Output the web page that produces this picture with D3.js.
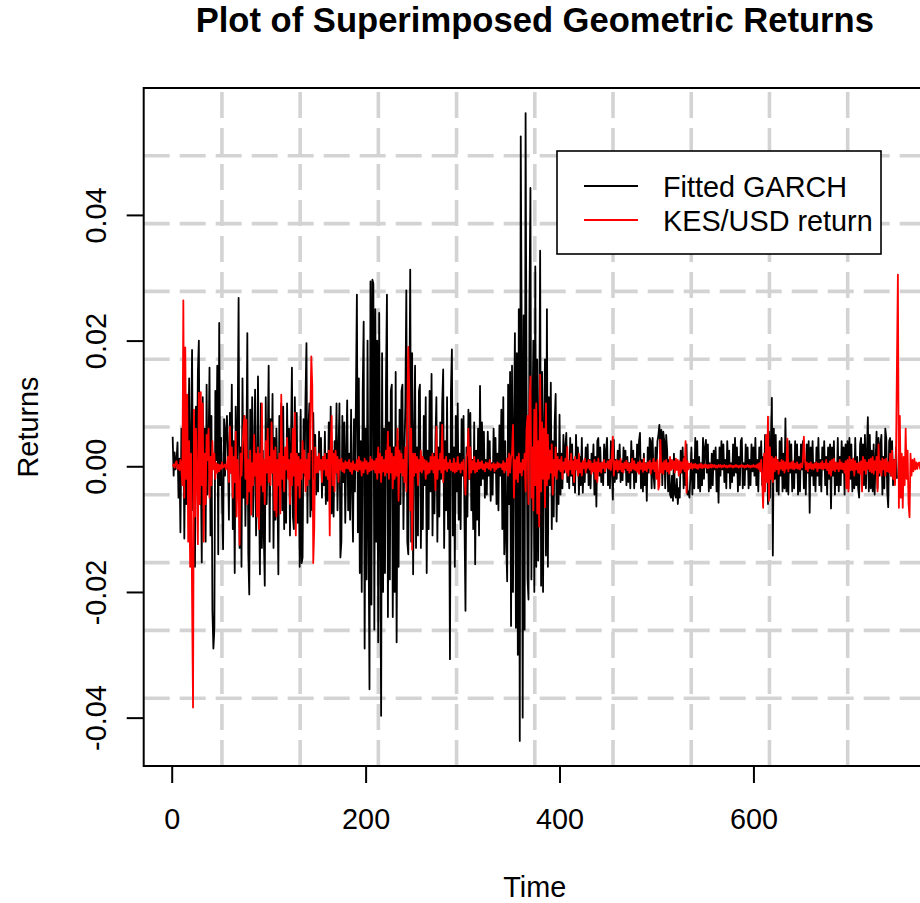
<!DOCTYPE html>
<html>
<head>
<meta charset="utf-8">
<script src="https://cdn.jsdelivr.net/npm/d3@7"></script>
<style>
  html, body { margin: 0; padding: 0; background: #ffffff; overflow: hidden; }
  svg { display: block; }
</style>
</head>
<body>
<svg id="chart" width="920" height="903"></svg>
<script>
// Daily returns, in basis points (1 bp = 0.0001), index 1..n
const garchBp = [
  47, -15, 22, -5, 10, 38, -50, 12, -105, 60,
  -20, 95, -115, 30, -60, 110, 15, 140, -130, 40,
  185, -70, 20, -160, 95, -30, 150, 200, -60, 5,
  -153, 110, -20, 60, -120, 130, -45, 25, 157, -110,
  80, -230, -290, -260, 120, 10, 160, -140, 228, -30,
  45, -60, -132, 75, -15, 60, 80, 20, -85, 85,
  -10, 130, -100, 40, -170, 95, -25, 60, 268, -130,
  30, -160, 140, -50, 80, -95, 10, 212, -140, -204,
  90, -20, 110, -80, 15, 122, -110, -40, 143, -35,
  -172, 100, -130, 25, -110, -190, 110, -60, 30, 160,
  -120, 75, -10, 115, -130, 45, -85, 60, -20, -172,
  80, -35, 100, -70, 95, -100, 20, -90, 100, -15,
  60, -110, 35, 157, -80, -100, 110, -10, 85, -90,
  20, -160, 90, -154, -145, 75, -15, 110, 196, -90,
  60, 100, -80, 25, -70, 85, -20, 50, -45, 10,
  -40, 55, -5, 45, -50, 15, -30, 55, -60, 20,
  -55, 70, -15, 95, -75, 25, -80, 40, -10, 100,
  -70, 20, 100, -145, -120, 80, -25, 70, -90, 15,
  105, -70, 20, -85, 90, -30, -120, 75, -40, 110,
  273, -105, 140, -170, 40, -200, 120, 230, -290, 60,
  -180, 200, -100, -355, 294, -220, 297, 290, -260, 250,
  -120, 200, -280, 244, -90, -397, 180, -200, 60, -170,
  130, 273, -240, 70, -180, 120, 130, -240, 30, -200,
  150, -280, 40, -160, 90, -60, 120, 130, -100, 20,
  100, 280, -120, -140, 60, 313, -120, 180, -172, 40,
  160, -130, 30, -110, 120, 130, -130, 15, -100, 80,
  -30, 110, -170, 25, -100, 120, -40, 147, -110, 20,
  -75, 40, 110, -120, 30, -80, 70, -20, 100, 154,
  -130, 40, -70, 110, -100, 20, -307, 120, 186, -110,
  30, -160, 80, -40, 100, -85, 20, -100, 75, -15,
  80, -90, -230, 30, -80, 90, -20, 85, -70, 10,
  -100, 70, -156, 25, -85, 60, -110, 128, -30, 70,
  -20, 55, -50, 10, -45, 55, -15, 40, -55, 5,
  -45, 60, -10, 45, -60, 20, -70, 65, -15, 90,
  -100, 110, -140, 40, -120, -183, 130, -60, 150, -254,
  160, -200, 60, 212, -257, 180, -300, 250, -437, 525,
  200, -400, 240, -260, 562, 120, -180, -212, 260, 443,
  -180, 60, 200, -200, 318, -160, 170, -150, 40, 343,
  -190, 150, -200, 60, 170, -142, 250, -160, 110, -30,
  133, -100, 40, -80, 70, 115, -88, 20, -60, 82,
  -45, 20, -35, 50, -10, 30, 53, -25, 5, -35,
  45, -15, 35, -30, 10, -42, 50, -5, 30, -45,
  15, -30, 45, -42, 5, -25, 30, -10, 35, -30,
  10, -35, 20, -5, 35, -45, 15, -64, 40, 45,
  -15, 30, -25, 5, -30, 35, -10, 25, 45, -30,
  10, -35, 40, -5, -53, 42, -25, 10, -20, 25,
  -10, 35, -25, 8, -22, 30, -5, 25, -30, 15,
  -25, 5, -35, 40, -10, 25, -35, 12, -25, 35,
  -5, 40, 53, -35, 10, -40, 20, -30, 5, -55,
  30, -10, 45, 40, -35, 45, -15, -35, 30, -5,
  40, 50, 66, 20, 58, -30, 55, 40, -35, 50,
  25, -40, 10, -45, -50, -15, -55, 20, -45, -50,
  -20, -60, -35, -50, 25, -10, 30, -35, 15, -30,
  35, -45, -40, -50, -15, 30, -45, 10, -35, 45,
  -10, 40, -35, 15, -40, 5, -30, 45, -20, 30,
  42, -10, 35, -40, 5, -35, 20, -30, 25, -5,
  30, -40, 10, -58, 30, -15, 40, -5, 35, -25,
  10, -35, 40, -10, 25, -35, 5, -25, 35, -15,
  45, -10, 30, -40, 15, -30, 40, 45, -35, 5,
  -30, 35, -5, 30, -35, 10, -30, 35, -8, 30,
  -15, 45, -30, 10, -40, 30, -5, 40, -30, 15,
  -40, 50, -15, 45, -60, 55, -50, 40, 109, -142,
  60, -20, 50, -40, 10, -45, 40, -15, 45, -40,
  20, -35, 76, -40, 10, -45, 40, -10, 35, -40,
  5, -35, 40, -10, 35, -45, 15, -40, 35, -5,
  40, -35, 10, -45, 35, -10, 40, -74, 30, -15,
  40, -30, 5, -40, 30, -15, 45, -30, 10, -40,
  30, -5, 40, -30, 15, -45, 30, -20, 35, -67,
  30, -15, 40, -45, 5, -30, 45, -40, 15, -30,
  40, -10, 30, -45, 35, -5, 40, -35, 45, -20,
  35, -40, 10, -35, 45, -30, 15, -35, -50, 35,
  45, -15, 35, -30, 50, -35, 20, 78, -40, 50,
  -35, 25, -40, 35, -45, 10, 55, -35, 45, -15,
  35, 50, -45, 15, -35, 60, 45, -40, -65, 40,
  45, -15, 40, -30, 10, -25, 30, -20
];

const kesUsdBp = [
  0, 3, -2, 5, 8, -4, 2, -6, 10, -5,
  -30, 264, -50, 189, -20, 114, -120, 40, -160, 20,
  -207, -384, 90, -80, 60, -20, -124, 117, -60, 118,
  -30, 100, -120, 20, -60, 50, 10, 60, -50, 15,
  -30, 40, -5, 20, -20, 5, -10, 3, -8, 2,
  -4, 6, -2, 0, 3, -5, 2, 15, -25, 63,
  -10, 30, -50, 15, -25, 55, -80, 10, -30, -125,
  20, -15, 30, 60, 80, -20, 74, -60, 10, -40,
  25, -77, 5, -30, 50, -15, 20, -80, 30, -100,
  20, -30, 100, -40, 10, -60, 40, -10, 60, -25,
  15, -30, 70, -10, 25, -70, 30, -80, 10, -30,
  20, -75, 114, -20, 15, -40, 30, -5, 45, -20,
  10, -60, 20, -30, 60, -15, 85, -110, 20, -30,
  15, -50, 10, -20, 40, -10, 25, -40, 10, -30,
  20, -20, 80, 175, 127, -154, -100, 30, -10, 15,
  -10, 20, -5, 10, -25, 15, -5, 20, -15, 10,
  -20, 25, -110, 30, 80, -30, 20, -40, 25, -10,
  15, -25, 10, -5, 12, -8, 5, -10, 8, -3,
  6, -4, 10, -8, 5, -12, 8, -5, 3, -6,
  10, -8, 15, -5, 8, -15, 6, -10, 12, -4,
  8, -12, 5, -8, 15, -6, 10, -5, 8, -10,
  12, -20, 30, -10, 20, -25, 15, -8, 10, -15,
  25, -10, 55, -20, 30, -10, 20, -35, 15, -20,
  30, -15, 60, -55, 25, -10, 20, -15, 10, -25,
  30, -40, 90, 190, 120, -70, 60, -133, 20, -15,
  20, -10, 15, -30, 10, -8, 25, -10, 15, -5,
  10, -20, 8, -12, 5, -10, 15, -5, 20, -10,
  15, -38, 63, -20, 10, -5, 20, -10, 66, -25,
  10, -5, 15, -8, 5, -3, 10, -6, 4, -8,
  12, -10, 5, -8, 15, -5, 3, -10, 6, -4,
  10, -15, -45, 15, 20, 60, -20, 30, -10, 8,
  -5, 15, -10, 5, -8, 10, -4, 6, -3, 8,
  -5, 3, -8, 6, -2, 5, -4, 10, -6, 3,
  -2, 5, -8, 3, -4, 6, -2, 4, -1, 3,
  -5, 8, -10, 5, -6, 12, -15, 20, -10, 15,
  20, 66, -50, 10, -20, 15, -25, 20, -10, 5,
  -15, 10, -5, 20, -40, 60, 80, -60, 100, 143,
  -50, 30, -70, 90, -30, 100, -75, 40, -96, 146,
  -40, 70, -20, 60, -65, 100, -30, 50, -20, 25,
  -10, 35, -45, 10, -15, 30, -20, 15, -5, 10,
  -8, 15, -20, 6, -5, 12, -10, 31, -15, 8,
  -5, 20, -12, 8, -25, 15, -5, 10, -15, 20,
  -10, 5, -15, 8, -3, 12, -10, 5, -2, 10,
  -5, 8, -12, 4, -8, 10, -20, 6, -25, 12,
  -8, 5, -10, 6, -3, 10, -8, 4, -2, 8,
  -4, 10, -6, 15, 47, -15, 8, -5, 10, -8,
  8, -5, 12, -8, 4, -10, 6, -3, 9, -6,
  5, -10, 4, -7, 12, -4, 8, -6, 3, -9,
  6, -12, 8, -4, 5, -9, 12, -6, 4, -8,
  6, -3, 9, -12, 5, -4, 12, -8, 6, -20,
  10, -37, -30, 42, -10, 5, -12, 8, -5, 10,
  -8, 5, -12, 15, -6, 10, -4, 8, -10, 12,
  -6, 10, -15, 8, -10, 6, -4, 12, -8, 40,
  -42, 8, -5, 4, -3, 5, -4, 3, -2, 4,
  -3, 2, -4, 3, -2, 4, -3, 2, -2, 3,
  -2, 2, -3, 2, -2, 3, -2, 2, -1, 2,
  -2, 1, -2, 2, -1, 2, -2, 1, -1, 2,
  -1, 1, -2, 1, -1, 2, -1, 1, -2, 1,
  -1, 2, -1, 1, -2, 1, -1, 2, -1, 1,
  -2, 1, -1, 2, -1, 1, -2, 1, -1, 2,
  -1, 1, -2, 3, -4, 5, -8, 10, -20, -66,
  20, -40, 50, -25, 79, -55, 30, -20, 15, -25,
  12, -8, 15, -5, 10, -12, 6, -4, 10, -6,
  8, -10, 6, -4, 44, -8, 5, -3, 6, -4,
  8, -5, 4, -3, 6, -4, 3, -5, 4, -2,
  8, 47, 15, -5, 6, -8, 4, -3, 6, -4,
  3, -5, 4, -2, 6, -8, 4, -3, 5, -4,
  8, -5, 4, -3, 10, -6, 4, -12, 8, -15,
  10, -6, 12, -8, 6, -4, 5, -8, 10, -4,
  6, -5, 4, -10, 8, -35, 10, -40, 15, -6,
  10, -6, 12, -15, 8, -5, 4, -10, 6, -12,
  8, -40, 15, -6, 10, -12, 6, -4, 10, -8,
  12, -10, 15, -12, 8, -6, 15, -40, 35, -10,
  8, -15, 12, -5, 10, -15, 12, -8, 6, -10,
  20, -15, 25, -20, 10, -30, 10, 160, 305, -66,
  80, -50, 20, -66, 15, -30, 60, -20, 25, -60,
  -81, 20, -15, 10, -8, 12, -5, 6, -4, 5,
  6, -4, 5, -3, 4, -2, 3, -2, 2, -1
];

const xTicks = [0, 200, 400, 600];
const yTicks = [-0.04, -0.02, 0, 0.02, 0.04];
const yTickLabels = ["-0.04", "-0.02", "0.00", "0.02", "0.04"];
const seriesNames = ["Fitted GARCH", "KES/USD return"];
const seriesColors = ["#000000", "#FF0000"];
const titleText = "Plot of Superimposed Geometric Returns";
const xLabel = "Time";
const yLabel = "Returns";

const FONT = "'Liberation Sans', Arial, Helvetica, sans-serif";
const toReturn = bp => bp / 10000;
const garch = garchBp.map((v, i) => ({ t: i + 1, r: toReturn(v) }));
const kesUsd = kesUsdBp.map((v, i) => ({ t: i + 1, r: toReturn(v) }));

const svg = d3.select("#chart");
svg.append("rect").attr("width", 920).attr("height", 903).attr("fill", "#ffffff");

// plot region (box) in pixels
const box = { left: 143.7, right: 925.9, top: 88, bottom: 766 };

// ranges padded by 4% on each side, base-graphics style
const n = garch.length;
const xPad = 0.04 * (n - 1);
const x = d3.scaleLinear().domain([1 - xPad, n + xPad]).range([box.left, box.right]);
const [lo, hi] = d3.extent(garch, d => d.r);
const yPad = 0.04 * (hi - lo);
const y = d3.scaleLinear().domain([lo - yPad, hi + yPad]).range([box.bottom, box.top]);

// dashed grid: 10 equal cells across each axis
const [dx0, dx1] = x.domain();
const [dy0, dy1] = y.domain();
const gridX = d3.range(1, 10).map(k => dx0 + k * (dx1 - dx0) / 10);
const gridY = d3.range(1, 10).map(k => dy0 + k * (dy1 - dy0) / 10);
const grid = svg.append("g")
  .attr("stroke", "#D3D3D3").attr("stroke-width", 3.6)
  .attr("stroke-dasharray", "26,10").attr("fill", "none");
grid.selectAll("line.v").data(gridX).join("line").attr("class", "v")
  .attr("x1", d => x(d)).attr("x2", d => x(d))
  .attr("y1", box.bottom).attr("y2", box.top);
grid.selectAll("line.h").data(gridY).join("line").attr("class", "h")
  .attr("x1", box.left).attr("x2", box.right)
  .attr("y1", d => y(d)).attr("y2", d => y(d));

// series, clipped to the plot box
svg.append("clipPath").attr("id", "plotClip")
  .append("rect").attr("x", box.left).attr("y", box.top)
  .attr("width", box.right - box.left).attr("height", box.bottom - box.top);

const line = d3.line().x(d => x(d.t)).y(d => y(d.r));
const plotG = svg.append("g").attr("clip-path", "url(#plotClip)");
[garch, kesUsd].forEach((series, k) => {
  plotG.append("path").datum(series)
    .attr("d", line)
    .attr("fill", "none")
    .attr("stroke", seriesColors[k])
    .attr("stroke-width", 1.8)
    .attr("stroke-linejoin", "round");
});

// axes
const xAxis = svg.append("g").attr("transform", `translate(0,${box.bottom})`)
  .call(d3.axisBottom(x).tickValues(xTicks).tickFormat(d3.format("d")).tickSize(17));
xAxis.select(".domain").remove();
xAxis.selectAll(".tick line").attr("stroke", "#000").attr("stroke-width", 2);
xAxis.selectAll(".tick text")
  .attr("y", 63).attr("dy", null)
  .attr("font-family", FONT).attr("font-size", 28.8).attr("fill", "#000");

const yAxis = svg.append("g").attr("transform", `translate(${box.left},0)`)
  .call(d3.axisLeft(y).tickValues(yTicks).tickFormat((d, i) => yTickLabels[i]).tickSize(17));
yAxis.select(".domain").remove();
yAxis.selectAll(".tick line").attr("stroke", "#000").attr("stroke-width", 2);
yAxis.selectAll(".tick text")
  .attr("x", 0).attr("y", -37.7).attr("dy", null)
  .attr("transform", "rotate(-90)")
  .attr("text-anchor", "middle")
  .attr("font-family", FONT).attr("font-size", 28.8).attr("fill", "#000");

// plot box
svg.append("rect")
  .attr("x", box.left).attr("y", box.top)
  .attr("width", box.right - box.left).attr("height", box.bottom - box.top)
  .attr("fill", "none").attr("stroke", "#000").attr("stroke-width", 2);

// titles
const midX = (box.left + box.right) / 2;
svg.append("text").text(titleText)
  .attr("x", midX).attr("y", 32).attr("text-anchor", "middle")
  .attr("font-family", FONT).attr("font-weight", "bold").attr("font-size", 34.6);
svg.append("text").text(xLabel)
  .attr("x", midX).attr("y", 897).attr("text-anchor", "middle")
  .attr("font-family", FONT).attr("font-size", 28.8);
svg.append("text").text(yLabel)
  .attr("transform", `translate(38,${(box.top + box.bottom) / 2}) rotate(-90)`)
  .attr("text-anchor", "middle")
  .attr("font-family", FONT).attr("font-size", 28.8);

// legend
const leg = svg.append("g");
leg.append("rect").attr("x", 557).attr("y", 151).attr("width", 324).attr("height", 103)
  .attr("fill", "#ffffff").attr("stroke", "#000").attr("stroke-width", 1.6);
seriesNames.forEach((name, k) => {
  const yy = 186 + k * 34;
  leg.append("line").attr("x1", 584).attr("x2", 638).attr("y1", yy).attr("y2", yy)
    .attr("stroke", seriesColors[k]).attr("stroke-width", 1.8);
  leg.append("text").text(name).attr("x", 663).attr("y", yy + 11)
    .attr("font-family", FONT).attr("font-size", 28.8).attr("fill", "#000");
});
</script>
</body>
</html>
